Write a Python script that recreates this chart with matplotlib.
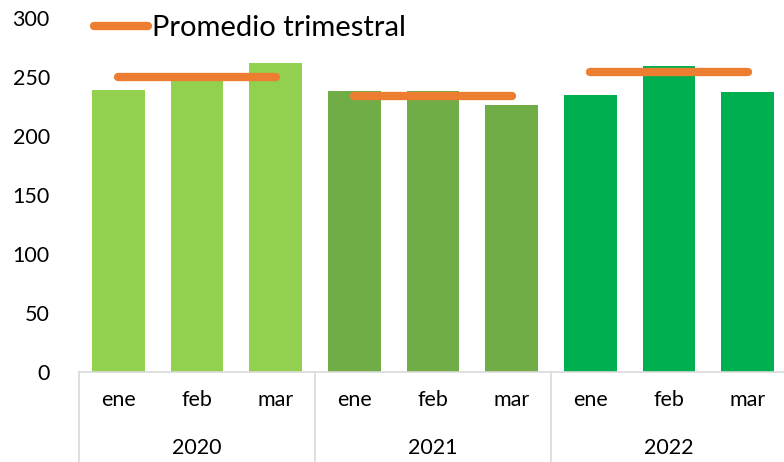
import numpy as np
import matplotlib.pyplot as plt
import matplotlib.transforms as mtransforms

# data
years = ['2020', '2021', '2022']
months = ['ene', 'feb', 'mar']
valores_2020 = [239, 249, 262]
valores_2021 = [238, 238, 226]
valores_2022 = [235, 259, 237]
promedio = [250, 234, 254]
year_colors = ['#92D050', '#70AD47', '#00B050']

plt.rcParams['font.family'] = ['Lato', 'DejaVu Sans']

fig = plt.figure(figsize=(7.84, 4.62), dpi=100)
ax = fig.add_axes([79/784, 90/462, 708/784, 354/462])

series = [valores_2020, valores_2021, valores_2022]
for i, (vals, col) in enumerate(zip(series, year_colors)):
    x = np.arange(3) + 3*i
    ax.bar(x, vals, width=0.67, color=col, zorder=2)
    ax.plot(x, [promedio[i]]*3, color='#ED7D31', lw=6, solid_capstyle='round',
            zorder=3, label='Promedio trimestral' if i == 0 else None)

ax.set_xlim(-0.5, 8.5)
ax.set_ylim(0, 300)
ax.set_yticks(range(0, 301, 50))
ax.set_xticks(range(9))
ax.set_xticklabels(months*3)
ax.tick_params(axis='y', length=0, pad=21, labelsize=15.5)
ax.tick_params(axis='x', length=0, pad=13, labelsize=15.5)

for s in ['top', 'right', 'left']:
    ax.spines[s].set_visible(False)
ax.spines['bottom'].set_color('#D9D9D9')
ax.spines['bottom'].set_linewidth(1.2)

# group separators and year labels
trans = mtransforms.blended_transform_factory(ax.transData, ax.transAxes)
for xs in [-0.5, 2.5, 5.5]:
    ax.plot([xs, xs], [0, -0.26], color='#D9D9D9', lw=1.2, transform=trans, clip_on=False)
for i, y in enumerate(years):
    ax.text(3*i + 1, -0.215, y, transform=trans, ha='center', va='center', fontsize=15.5)

leg = ax.legend(loc='upper left', bbox_to_anchor=(0.0, 1.05), frameon=False,
                fontsize=21, handlelength=1.85, handletextpad=0.15, borderpad=0)

fig.savefig('out.png', dpi=100)
